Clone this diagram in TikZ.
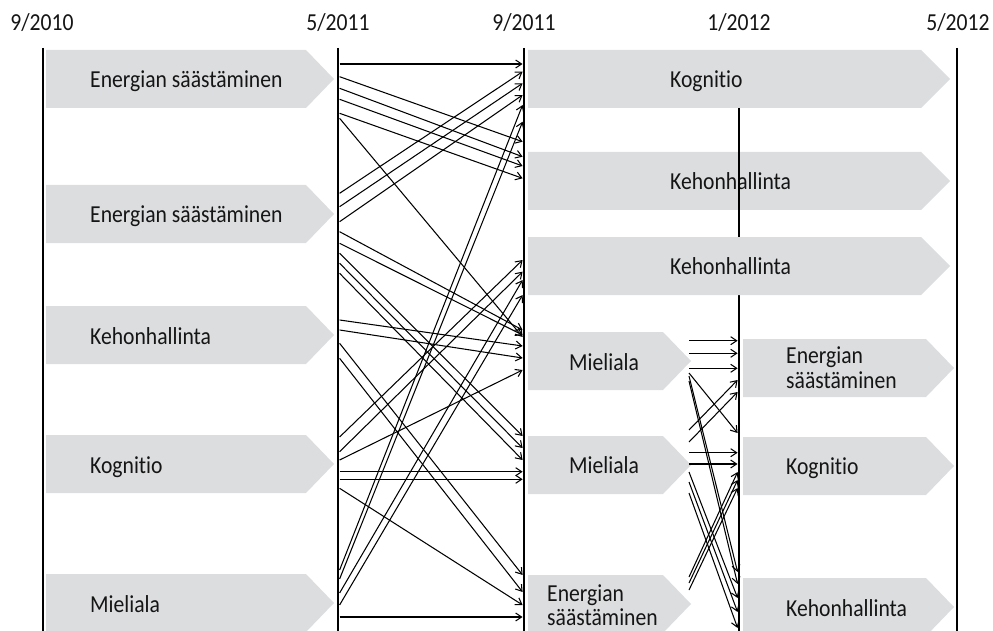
\documentclass[tikz,border=0pt]{standalone}
\usepackage{fontspec}
\setmainfont[FakeStretch=0.887, Ligatures={NoCommon}]{Carlito}
\usetikzlibrary{arrows.meta}
\definecolor{boxgray}{HTML}{DCDDDF}
\definecolor{txt}{HTML}{151515}
\tikzset{
  timeline/.style={line width=2.3pt, black},
  band/.style={fill=boxgray, draw=none},
  lbl/.style={font=\fontsize{24.4}{26}\selectfont, text=txt, anchor=base west, inner sep=0pt},
  datelbl/.style={font=\fontsize{24.4}{26}\selectfont, text=txt, anchor=base, inner sep=0pt},
  flow/.style={line width=1.05pt, black, -{Straight Barb[length=6pt,width=8pt]}},
}
\newcommand\grayarrow[4]{% x0, xr, xt, top
  \fill[band] (#1,#4) -- (#2,#4) -- (#3,#4+29) -- (#2,#4+58) -- (#1,#4+58) -- cycle;}
\begin{document}
\begin{tikzpicture}[x=1pt,y=-1pt]
\useasboundingbox (0,0) rectangle (993,631);

% date labels
\node[datelbl] (d1) at (42,31) {9/2010};
\node[datelbl] (d2) at (338,31) {5/2011};
\node[datelbl] (d3) at (524,31) {9/2011};
\node[datelbl] (d4) at (739,31) {1/2012};
\node[datelbl] (d5) at (958,31) {5/2012};

% left column
\grayarrow{46}{306}{334}{50}
\grayarrow{46}{306}{334}{185}
\grayarrow{46}{306}{334}{306}
\grayarrow{46}{306}{334}{435}
\grayarrow{46}{306}{334}{574}
\node[lbl] (a1) at (90,87.5) {Energian säästäminen};
\node[lbl] (a2) at (90,222.5) {Energian säästäminen};
\node[lbl] (a3) at (90,344) {Kehonhallinta};
\node[lbl] (a4) at (90,473) {Kognitio};
\node[lbl] (a5) at (90,612) {Mieliala};

% middle column
\grayarrow{528}{921}{950}{50}
\grayarrow{528}{921}{950}{152}
\grayarrow{528}{663}{691}{332}
\grayarrow{528}{663}{691}{436}
\grayarrow{528}{663}{691}{575}
\node[lbl] (b1) at (670,87.5) {Kognitio};
\node[lbl] (b2) at (670,189.5) {Kehonhallinta};
\node[lbl] (b4) at (569,370) {Mieliala};
\node[lbl] (b5) at (569,473) {Mieliala};
\node[lbl] (b6a) at (547,601) {Energian};
\node[lbl] (b6b) at (547,625) {säästäminen};

% right column
\grayarrow{743}{926}{954}{339}
\grayarrow{743}{926}{954}{437}
\grayarrow{743}{926}{954}{578}
\node[lbl] (c1a) at (786,363) {Energian};
\node[lbl] (c1b) at (786,388) {säästäminen};
\node[lbl] (c2) at (786,474) {Kognitio};
\node[lbl] (c3) at (786,616) {Kehonhallinta};

% time lines
\coordinate (t1) at (43,48);
\coordinate (t2) at (338,48);
\coordinate (t3) at (524,48);
\coordinate (t4) at (739,108);
\coordinate (t5) at (957,48);
\draw[timeline] (t1) -- (43,631);
\draw[timeline] (t2) -- (338,631);
\draw[timeline] (t3) -- (524,631);
\draw[timeline] (t4) -- (739,631);
\draw[timeline] (t5) -- (957,631);

% second Kehonhallinta band lies over the 1/2012 line
\grayarrow{528}{921}{950}{237}
\node[lbl] (b3) at (670,274.5) {Kehonhallinta};

% transitions 5/2011 -> 9/2011
\foreach \a/\b in {64/64, 76.7/141.7, 88.3/156.7, 99.3/166, 113.3/178.3, 118.3/337,
  193.3/71.7, 206.7/83.3, 221.7/95, 231.7/330, 243.3/335, 253.3/436, 263.3/448, 273.3/460,
  320/346, 330/358, 343.3/575, 358.3/592,
  437/260, 451.7/271.7, 460/370, 471.7/471.7, 479.3/479.3, 488.3/605,
  570/105, 579/121.7, 593/280, 605/295, 617/617}
  \draw[flow] (339.6,\a) -- (522.6,\b);

% transitions 9/2011 -> 1/2012
\foreach \a/\b in {340.7/340.7, 353.3/353.3, 368.3/368.3, 373/433, 376/572, 381/584,
  430/380, 442/392, 452.7/452.7, 464/464, 472/598, 482/612, 493/628,
  577/472, 583/480, 590/488}
  \draw[flow] (689,\a) -- (737.6,\b);
\end{tikzpicture}
\end{document}
